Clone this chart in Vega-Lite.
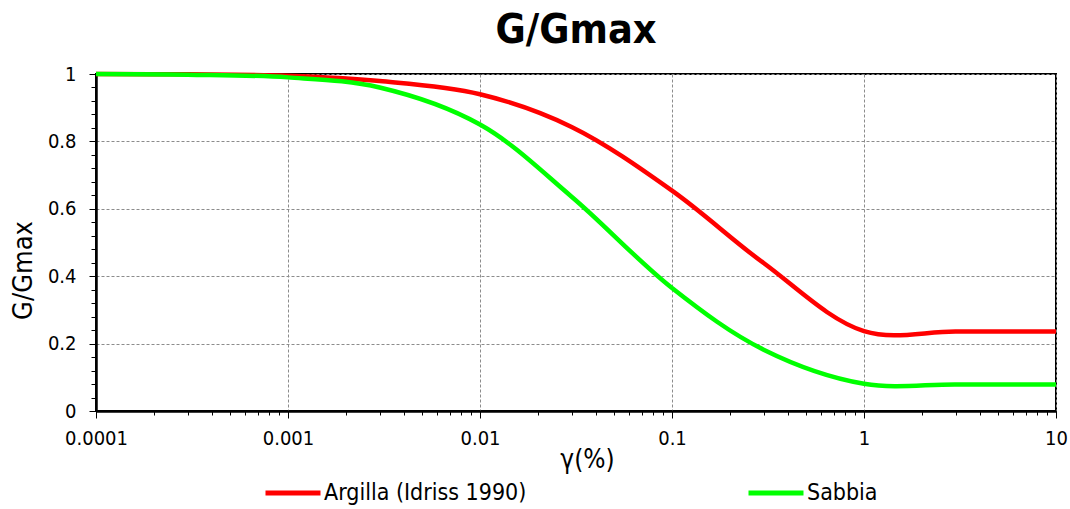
{
  "$schema": "https://vega.github.io/schema/vega-lite/v6.json",
  "width": 960,
  "height": 337,
  "autosize": "none",
  "padding": {"left": 96, "top": 74, "right": 14, "bottom": 98},
  "background": "white",
  "config": {
    "font": "DejaVu Sans Condensed, Roboto, sans-serif",
    "view": {"stroke": "black", "strokeWidth": 2},
    "axis": {"labelFont": "DejaVu Sans Condensed, Roboto, sans-serif", "titleFont": "DejaVu Sans Condensed, Roboto, sans-serif", "labelColor": "black", "titleColor": "black", "titleFontWeight": "normal"}
  },
  "title": {"text": "G/Gmax", "fontSize": 41, "fontWeight": "bold", "font": "DejaVu Sans Condensed, Roboto, sans-serif", "color": "black", "anchor": "middle", "offset": 12},
  "data": {"values": [
    {"s": "Argilla (Idriss 1990)", "g": 0.0001, "v": 1.0},
    {"s": "Argilla (Idriss 1990)", "g": 0.0003, "v": 0.999},
    {"s": "Argilla (Idriss 1990)", "g": 0.001, "v": 0.995},
    {"s": "Argilla (Idriss 1990)", "g": 0.003, "v": 0.979},
    {"s": "Argilla (Idriss 1990)", "g": 0.01, "v": 0.940},
    {"s": "Argilla (Idriss 1990)", "g": 0.03, "v": 0.843},
    {"s": "Argilla (Idriss 1990)", "g": 0.1, "v": 0.654},
    {"s": "Argilla (Idriss 1990)", "g": 0.3, "v": 0.439},
    {"s": "Argilla (Idriss 1990)", "g": 1.0, "v": 0.237},
    {"s": "Argilla (Idriss 1990)", "g": 3.0, "v": 0.236},
    {"s": "Argilla (Idriss 1990)", "g": 10.0, "v": 0.236},
    {"s": "Sabbia", "g": 0.0001, "v": 1.0},
    {"s": "Sabbia", "g": 0.0003, "v": 0.998},
    {"s": "Sabbia", "g": 0.001, "v": 0.990},
    {"s": "Sabbia", "g": 0.003, "v": 0.960},
    {"s": "Sabbia", "g": 0.01, "v": 0.850},
    {"s": "Sabbia", "g": 0.03, "v": 0.636},
    {"s": "Sabbia", "g": 0.1, "v": 0.365},
    {"s": "Sabbia", "g": 0.3, "v": 0.182},
    {"s": "Sabbia", "g": 1.0, "v": 0.081},
    {"s": "Sabbia", "g": 3.0, "v": 0.079},
    {"s": "Sabbia", "g": 10.0, "v": 0.079}
  ]},
  "resolve": {"axis": {"x": "independent", "y": "independent"}},
  "layer": [
    {
      "mark": {"type": "point", "opacity": 0},
      "encoding": {
        "x": {"field": "g", "type": "quantitative", "scale": {"type": "log", "domain": [0.0001, 10], "nice": false},
          "axis": {"orient": "bottom", "values": [0.0002,0.0003,0.0004,0.0005,0.0006,0.0007,0.0008,0.0009,0.002,0.003,0.004,0.005,0.006,0.007,0.008,0.009,0.02,0.03,0.04,0.05,0.06,0.07,0.08,0.09,0.2,0.3,0.4,0.5,0.6,0.7,0.8,0.9,2,3,4,5,6,7,8,9],
            "labels": false, "grid": false, "domain": false, "tickSize": 4, "tickColor": "black", "tickWidth": 1, "title": null}},
        "y": {"field": "v", "type": "quantitative", "scale": {"domain": [0, 1], "nice": false, "zero": false},
          "axis": {"orient": "left", "values": [0.04,0.08,0.12,0.16,0.24,0.28,0.32,0.36,0.44,0.48,0.52,0.56,0.64,0.68,0.72,0.76,0.84,0.88,0.92,0.96],
            "labels": false, "grid": false, "domain": false, "tickSize": 5, "tickColor": "black", "tickWidth": 1, "title": null}}
      }
    },
    {
      "mark": {"type": "line", "interpolate": "catmull-rom", "strokeWidth": 4.5},
      "encoding": {
        "x": {"field": "g", "type": "quantitative", "scale": {"type": "log", "domain": [0.0001, 10], "nice": false},
          "axis": {"orient": "bottom", "values": [0.0001, 0.001, 0.01, 0.1, 1, 10], "format": "~g", "labelFontSize": 20, "labelPadding": 10, "labelFlush": false,
            "tickSize": 7, "tickColor": "black", "tickWidth": 1, "domainColor": "black", "domainWidth": 2.5,
            "grid": true, "gridColor": "#8c8c8c", "gridDash": [3, 2], "gridWidth": 1,
            "title": "γ(%)", "titleFontSize": 26, "titlePadding": -2, "titleX": 491}},
        "y": {"field": "v", "type": "quantitative", "scale": {"domain": [0, 1], "nice": false, "zero": false},
          "axis": {"orient": "left", "values": [0, 0.2, 0.4, 0.6, 0.8, 1], "format": "~g", "labelFontSize": 20, "labelPadding": 13,
            "tickSize": 7, "tickColor": "black", "tickWidth": 1, "domainColor": "black", "domainWidth": 2.5,
            "grid": true, "gridColor": "#8c8c8c", "gridDash": [3, 2], "gridWidth": 1,
            "title": "G/Gmax", "titleFontSize": 27, "titlePadding": 10, "titleY": 196}},
        "color": {"field": "s", "type": "nominal",
          "scale": {"domain": ["Argilla (Idriss 1990)", "Sabbia"], "range": ["#ff0000", "#00ff00"]},
          "legend": {"title": null, "orient": "none", "direction": "horizontal", "legendX": 167, "legendY": 389,
            "symbolType": "stroke", "symbolSize": 3025, "symbolStrokeWidth": 5, "labelFontSize": 23, "labelColor": "black",
            "labelFont": "DejaVu Sans Condensed, Roboto, sans-serif", "labelOffset": 1, "columnPadding": 211, "labelLimit": 400}}
      }
    }
  ]
}
